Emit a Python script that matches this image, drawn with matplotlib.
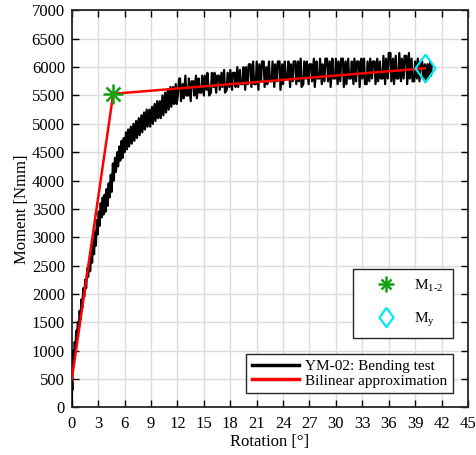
import matplotlib
matplotlib.use("Agg")
import matplotlib.pyplot as plt
from matplotlib.legend_handler import HandlerTuple

plt.rcParams['font.family'] = ['Liberation Serif', 'DejaVu Serif']
plt.rcParams['mathtext.fontset'] = 'custom'
plt.rcParams['mathtext.rm'] = 'Liberation Serif'
plt.rcParams['mathtext.it'] = 'Liberation Serif'

# bending test, rising branch
rot_rise = [0.0, 0.02, 0.05, 0.08, 0.12, 0.18, 0.25, 0.32, 0.4, 0.5,
            0.58, 0.68, 0.78, 0.88, 0.98, 1.08, 1.18, 1.3, 1.4, 1.52,
            1.62, 1.75, 1.85, 1.98, 2.08, 2.2, 2.3, 2.42, 2.52, 2.62,
            2.72, 2.84, 2.94, 3.05, 3.15, 3.28, 3.38, 3.5, 3.6, 3.72,
            3.82, 3.95, 4.05, 4.18, 4.28, 4.42, 4.52, 4.66, 4.76, 4.9,
            5.0, 5.15, 5.25, 5.4, 5.5, 5.65, 5.75, 5.9, 6.0, 6.15,
            6.25, 6.4, 6.5, 6.7, 6.8, 7.0, 7.1, 7.3, 7.4, 7.6,
            7.7, 7.9, 8.0, 8.2, 8.3, 8.5, 8.6, 8.8, 8.9, 9.1,
            9.2, 9.4, 9.5, 9.7, 9.8, 10.0, 10.1, 10.3, 10.4, 10.6,
            10.7, 10.9, 11.0, 11.2, 11.3, 11.5, 11.6, 11.8, 11.9]
mom_rise = [0, 450, 300, 800, 650, 1000, 850, 1150, 1000, 1350,
            1200, 1500, 1350, 1700, 1550, 1900, 1750, 2100, 1950, 2250,
            2100, 2450, 2300, 2600, 2400, 2750, 2550, 2950, 2700, 3100,
            2850, 3300, 3050, 3450, 3200, 3600, 3350, 3700, 3400, 3750,
            3450, 3850, 3550, 3950, 3700, 4100, 3800, 4300, 4000, 4400,
            4150, 4500, 4250, 4600, 4350, 4700, 4400, 4750, 4500, 4850,
            4550, 4900, 4600, 4950, 4650, 5000, 4700, 5050, 4750, 5100,
            4800, 5150, 4850, 5200, 4900, 5250, 4950, 5250, 4950, 5300,
            5000, 5350, 5050, 5400, 5100, 5400, 5100, 5500, 5150, 5550,
            5200, 5600, 5250, 5650, 5300, 5650, 5350, 5700, 5350]

# bending test, plateau
rot_plat = [12.0, 12.2, 12.3, 12.4, 12.6, 12.7, 12.9, 13.0, 13.2, 13.3,
            13.5, 13.6, 13.8, 13.9, 14.1, 14.2, 14.4, 14.5, 14.7, 14.8,
            15.0, 15.1, 15.3, 15.4, 15.6, 15.8, 15.9, 16.1, 16.2, 16.4,
            16.5, 16.7, 16.8, 17.0, 17.1, 17.3, 17.4, 17.6, 17.7, 17.9,
            18.0, 18.2, 18.3, 18.5, 18.6, 18.8, 18.9, 19.1, 19.2, 19.4,
            19.5, 19.7, 19.8, 20.0, 20.1, 20.3, 20.4, 20.6, 20.7, 20.9,
            21.0, 21.2, 21.3, 21.5, 21.6, 21.8, 21.9, 22.1, 22.2, 22.4,
            22.5, 22.7, 22.8, 23.0, 23.1, 23.3, 23.4, 23.6, 23.7, 23.9,
            24.0, 24.2, 24.3, 24.5, 24.6, 24.8, 24.9, 25.1, 25.2, 25.4,
            25.5, 25.7, 25.8, 26.0, 26.1, 26.3, 26.4, 26.6, 26.7, 26.9,
            27.0, 27.2, 27.3, 27.5, 27.6, 27.8, 27.9, 28.1, 28.2, 28.4,
            28.5, 28.7, 28.8, 29.0, 29.1, 29.3, 29.4, 29.6, 29.7, 29.9,
            30.0, 30.2, 30.3, 30.5, 30.6, 30.8, 30.9, 31.1, 31.2, 31.4,
            31.5, 31.7, 31.8, 32.0, 32.1, 32.3, 32.4, 32.6, 32.7, 32.9,
            33.0, 33.2, 33.3, 33.5, 33.6, 33.8, 33.9, 34.1, 34.2, 34.4,
            34.5, 34.7, 34.8, 35.0, 35.1, 35.3, 35.4, 35.6, 35.7, 35.9,
            36.0, 36.2, 36.3, 36.5, 36.6, 36.8, 36.9, 37.1, 37.2, 37.4,
            37.5, 37.7, 37.8, 38.0, 38.1, 38.3, 38.4, 38.6, 38.7, 38.9,
            39.0, 39.2, 39.3, 39.5, 39.6, 39.8, 39.9, 40.1, 40.2, 40.4,
            40.5, 40.7, 40.8, 40.9]
mom_plat = [5450, 5800, 5800, 5400, 5700, 5450, 5850, 5500, 5500, 5800,
            5400, 5750, 5750, 5500, 5850, 5450, 5800, 5550, 5550, 5850,
            5500, 5850, 5600, 5900, 5500, 5550, 5900, 5650, 5900, 5550,
            5850, 5850, 5600, 5900, 5650, 5950, 5550, 5600, 5900, 5650,
            5950, 5600, 5900, 5900, 5650, 6000, 5650, 5950, 5700, 5700,
            6000, 5600, 6000, 5700, 6050, 6050, 5650, 6100, 5700, 5700,
            6100, 5600, 6050, 5750, 6100, 6100, 5650, 6000, 5700, 6100,
            5750, 5750, 6100, 5650, 6050, 5750, 6100, 6100, 5600, 6050,
            5700, 6100, 5800, 5800, 6100, 5650, 6050, 5750, 6100, 6100,
            5700, 6100, 5750, 6150, 5650, 5700, 6100, 5800, 6100, 5700,
            6050, 6050, 5750, 6150, 5650, 6100, 5800, 5800, 6150, 5700,
            6050, 5750, 6150, 6150, 5750, 6100, 5650, 6150, 5800, 5800,
            6150, 5700, 6100, 5750, 6150, 6150, 5650, 6100, 5700, 6150,
            5800, 5800, 6100, 5700, 6150, 5750, 6100, 6100, 5650, 6150,
            5800, 6150, 5700, 5700, 6100, 5750, 6150, 5800, 6100, 6100,
            5700, 6150, 5750, 6100, 5800, 5800, 6200, 5700, 6150, 5800,
            6250, 6250, 5750, 6150, 5700, 6200, 5800, 5800, 6250, 5750,
            6150, 5800, 6200, 6200, 5700, 6250, 5800, 6150, 5750, 5750,
            6100, 5800, 6150, 5750, 6100, 6100, 5800, 6050, 5750, 6050,
            5800, 6100, 5850, 6050]

# bilinear approximation
rot_bilin = [0.0, 4.7, 40.1]
mom_bilin = [500, 5530, 5980]

# characteristic points
rot_m12, mom_m12 = 4.7, 5530
rot_my, mom_my = 40.1, 5980

rot_test = rot_rise + rot_plat
mom_test = mom_rise + mom_plat

fig = plt.figure(figsize=(4.76, 4.55), dpi=100)
ax = fig.add_axes([0.151, 0.105, 0.832, 0.872])

l_test, = ax.plot(rot_test, mom_test, color='black', lw=1.6, zorder=3)
l_bil, = ax.plot(rot_bilin, mom_bilin, color='red', lw=1.8, zorder=4)
green = '#12a012'
cyan = '#00e8f0'
diamond = [(0, 1), (0.72, 0), (0, -1), (-0.72, 0), (0, 1)]
s1, = ax.plot([rot_m12], [mom_m12], marker='+', ms=15, mew=1.8, color=green, ls='none', zorder=5)
s2, = ax.plot([rot_m12], [mom_m12], marker='x', ms=10, mew=1.8, color=green, ls='none', zorder=5)
d1, = ax.plot([rot_my], [mom_my], marker=diamond, ms=20, mew=1.6, mfc='none', mec=cyan, ls='none', zorder=5)

ax.set_xlim(0, 45)
ax.set_ylim(0, 7000)
ax.set_xticks(range(0, 46, 3))
ax.set_yticks(range(0, 7001, 500))
ax.tick_params(direction='in', length=5, width=1, top=True, right=True, labelsize=12)
ax.tick_params(axis='x', pad=6)
ax.tick_params(axis='y', pad=5)
ax.grid(True, color='#dcdcdc', lw=1)
ax.set_axisbelow(True)
for s in ax.spines.values():
    s.set_linewidth(1.3)
    s.set_color('#262626')
ax.set_xlabel('Rotation [°]', fontsize=12, labelpad=2)
ax.set_ylabel('Moment [Nmm]', fontsize=12, labelpad=1)

# legend handles with smaller markers
h_s1, = ax.plot([], [], marker='+', ms=11, mew=1.8, color=green, ls='none')
h_s2, = ax.plot([], [], marker='x', ms=7.5, mew=1.8, color=green, ls='none')
h_d1, = ax.plot([], [], marker=diamond, ms=14, mew=1.6, mfc='none', mec=cyan, ls='none')

leg1 = ax.legend([(h_s1, h_s2), h_d1], ['M$_{1\u20102}$', 'M$_y$'], loc='lower right',
                 bbox_to_anchor=(0.962, 0.175), borderaxespad=0, fontsize=11, fancybox=False,
                 framealpha=1, edgecolor='#262626', handler_map={tuple: HandlerTuple(ndivide=1)},
                 labelspacing=1.1, handlelength=3.1, borderpad=0.6, handletextpad=0.3)
leg1.get_frame().set_linewidth(1)
ax.add_artist(leg1)
leg2 = ax.legend([l_test, l_bil], ['YM-02: Bending test', 'Bilinear approximation'],
                 loc='lower right', bbox_to_anchor=(0.962, 0.036), fontsize=11, fancybox=False,
                 framealpha=1, edgecolor='#262626', handlelength=3.1, labelspacing=0.05,
                 borderpad=0.35, handletextpad=0.4, borderaxespad=0)
leg2.get_frame().set_linewidth(1)
for ln in leg2.get_lines():
    ln.set_linewidth(2.5)

fig.savefig('out.png', dpi=100)
